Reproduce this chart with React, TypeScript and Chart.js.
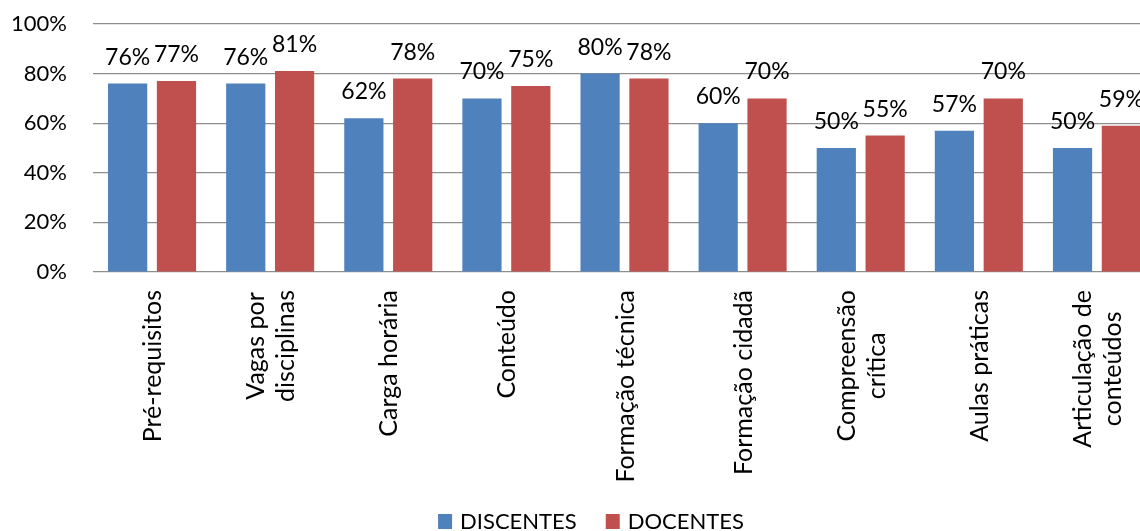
import { useEffect, useRef } from "react";
import { Chart, registerables } from "chart.js";

Chart.register(...registerables);

// Category names, split into the lines they are printed on
const categories: string[][] = [
  ["Pré-requisitos"],
  ["Vagas por", "disciplinas"],
  ["Carga horária"],
  ["Conteúdo"],
  ["Formação técnica"],
  ["Formação cidadã"],
  ["Compreensão", "crítica"],
  ["Aulas práticas"],
  ["Articulação de", "conteúdos"],
];

const seriesNames = ["DISCENTES", "DOCENTES"];
const discentes = [76, 76, 62, 70, 80, 60, 50, 57, 50];
const docentes = [77, 81, 78, 75, 78, 70, 55, 70, 59];
const seriesColors = ["#4F81BD", "#C0504D"];

const yMin = 0;
const yMax = 100;
const yStep = 20;

const FONT = "Lato, 'Open Sans', 'DejaVu Sans', sans-serif";

// Value labels, rotated category labels and the legend row
const overlay = {
  id: "overlay",
  afterDatasetsDraw(chart: any) {
    const ctx: CanvasRenderingContext2D = chart.ctx;
    ctx.save();

    // percentages above each bar
    ctx.font = `23px ${FONT}`;
    ctx.fillStyle = "#000";
    ctx.textAlign = "center";
    ctx.textBaseline = "alphabetic";
    chart.data.datasets.forEach((ds: any, di: number) => {
      const meta = chart.getDatasetMeta(di);
      meta.data.forEach((bar: any, i: number) => {
        ctx.fillText(`${ds.data[i]}%`, bar.x, bar.y - 19);
      });
    });

    // category names, reading upward, lines centred on each other
    const xs = chart.scales.x;
    const size = 25;
    const lineH = 30;
    const cap = size * 0.72;
    ctx.font = `${size}px ${FONT}`;
    categories.forEach((lines, i) => {
      const x = xs.getPixelForTick(i);
      const w = Math.max(...lines.map((l) => ctx.measureText(l).width));
      ctx.save();
      ctx.translate(x, xs.top + 18);
      ctx.rotate(-Math.PI / 2);
      ctx.textAlign = "center";
      lines.forEach((l, j) => {
        ctx.fillText(l, -w / 2, cap / 2 + (j - (lines.length - 1) / 2) * lineH);
      });
      ctx.restore();
    });

    // legend
    const lsize = 22;
    ctx.font = `${lsize}px ${FONT}`;
    ctx.textAlign = "left";
    const box = 14;
    const textGap = 8;
    const itemGap = 29;
    const widths = seriesNames.map((n) => box + textGap + ctx.measureText(n).width);
    const total = widths.reduce((a, b) => a + b, 0) + itemGap * (widths.length - 1);
    let lx = 591 - total / 2;
    const baseline = 529;
    seriesNames.forEach((n, k) => {
      ctx.fillStyle = seriesColors[k];
      ctx.fillRect(lx, baseline - 15, box, 15);
      ctx.fillStyle = "#000";
      ctx.fillText(n, lx + box + textGap, baseline);
      lx += widths[k] + itemGap;
    });

    ctx.restore();
  },
};

export default function App() {
  const ref = useRef<HTMLCanvasElement>(null);

  useEffect(() => {
    const canvas = ref.current;
    if (!canvas) return;
    const chart = new Chart(canvas, {
      type: "bar",
      data: {
        labels: categories.map((c) => c.join(" ")),
        datasets: [
          {
            label: seriesNames[0],
            data: discentes,
            backgroundColor: seriesColors[0],
            categoryPercentage: 0.827,
            barPercentage: 0.803,
          },
          {
            label: seriesNames[1],
            data: docentes,
            backgroundColor: seriesColors[1],
            categoryPercentage: 0.827,
            barPercentage: 0.803,
          },
        ],
      },
      options: {
        animation: false,
        responsive: false,
        devicePixelRatio: 1,
        layout: { padding: { top: 24, left: 0, right: 0, bottom: 0 } },
        plugins: {
          legend: { display: false },
          tooltip: { enabled: false },
        },
        scales: {
          x: {
            grid: { display: false },
            border: { display: false },
            ticks: { display: false },
            afterFit: (s: any) => {
              s.height = 259;
            },
          },
          y: {
            min: yMin,
            max: yMax,
            ticks: {
              stepSize: yStep,
              callback: (v: any) => `${v}%`,
              font: { family: FONT, size: 22 },
              color: "#000",
              padding: 26,
            },
            grid: { color: "#8e8e8e", drawTicks: false, lineWidth: 1.2 },
            border: { display: false },
            afterFit: (s: any) => {
              s.width = 93;
              s.paddingTop = 0;
              s.paddingBottom = 0;
            },
          },
        },
      },
      plugins: [overlay],
    } as any);
    return () => chart.destroy();
  }, []);

  return (
    <div
      style={{
        position: "fixed",
        left: 0,
        top: 0,
        width: 1140,
        height: 531,
        overflow: "hidden",
        background: "#fff",
      }}
    >
      <canvas ref={ref} width={1156} height={531} style={{ display: "block" }} />
    </div>
  );
}
